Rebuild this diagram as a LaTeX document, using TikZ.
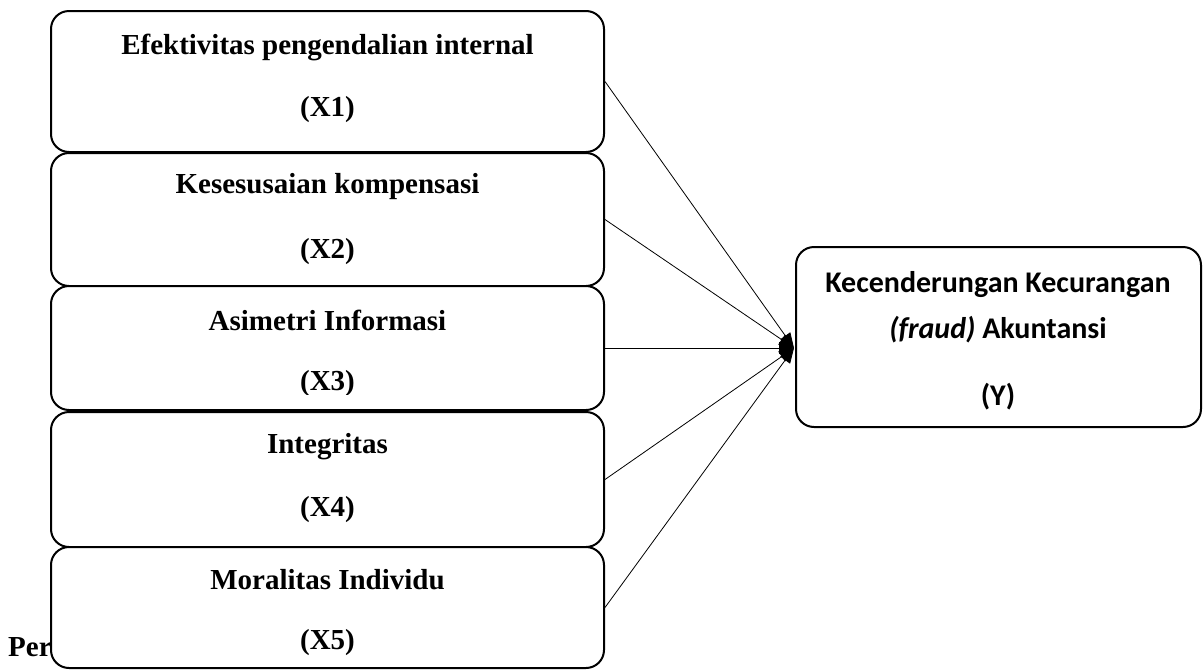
\documentclass[tikz,border=0pt]{standalone}
\usepackage{fontspec}
\setmainfont{Liberation Serif}
\newfontfamily\calib{Carlito}
\usetikzlibrary{arrows.meta,calc}
\begin{document}
\begin{tikzpicture}[x=1pt,y=-1pt,
  varbox/.style={draw,line width=2pt,rounded corners=18pt,fill=white,inner sep=0pt},
  ltxt/.style={font=\fontsize{29}{32}\selectfont\bfseries,inner sep=0pt,anchor=center},
  rtxt/.style={font=\calib\fontsize{30}{34}\selectfont\bfseries,inner sep=0pt,anchor=center},
  conn/.style={line width=0.8pt,-{Triangle[length=15pt,width=12pt]}}]
\useasboundingbox (0,0) rectangle (1203,670);
% partially hidden caption text
\node[ltxt,anchor=west] (per) at (8,647) {Per};
% left boxes
\node[varbox,minimum width=553pt,minimum height=141pt] (b1) at (327.5,81.5) {};
\node[ltxt] (t1a) at (327.5,47) {Efektivitas pengendalian internal};
\node[ltxt] (t1b) at (327.5,110) {(X1)};
\node[varbox,minimum width=553pt,minimum height=133pt] (b2) at (327.5,219.5) {};
\node[ltxt] (t2a) at (327.5,187) {Kesesusaian kompensasi};
\node[ltxt] (t2b) at (327.5,252) {(X2)};
\node[varbox,minimum width=553pt,minimum height=124pt] (b3) at (327.5,348) {};
\node[ltxt] (t3a) at (327.5,320) {Asimetri Informasi};
\begin{scope}
  \clip (200,360) rectangle (460,394);
  \node[ltxt] (t3b) at (327.5,384) {(X3)};
\end{scope}
\node[varbox,minimum width=553pt,minimum height=135pt] (b4) at (327.5,479.5) {};
\node[ltxt] (t4a) at (327.5,447) {Integritas};
\node[ltxt] (t4b) at (327.5,510) {(X4)};
\node[varbox,minimum width=553pt,minimum height=121pt] (b5) at (327.5,607.5) {};
\node[ltxt] (t5a) at (327.5,580) {Moralitas Individu};
\node[ltxt] (t5b) at (327.5,643) {(X5)};
% right box
\node[varbox,minimum width=405pt,minimum height=180pt] (y) at (998.5,337) {};
\node[rtxt] (ya) at (998,285) {Kecenderungan Kecurangan};
\node[rtxt] (yb) at (998,330) {\textit{(fraud)} Akuntansi};
\node[rtxt] (yc) at (998,397) {(Y)};
% connectors
\coordinate (tip) at (794,348);
\draw[conn] (b1.east) -- (tip);
\draw[conn] (b2.east) -- (tip);
\draw[conn] (b3.east) -- (tip);
\draw[conn] (b4.east) -- (tip);
\draw[conn] (b5.east) -- (tip);
\end{tikzpicture}
\end{document}
